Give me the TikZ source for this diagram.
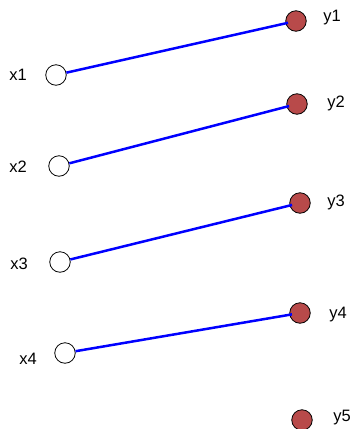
\documentclass[tikz,border=0pt]{standalone}
\usepackage{fontspec}
\setmainfont{Liberation Sans}
\definecolor{ynode}{RGB}{184,74,74}
\begin{document}
\begin{tikzpicture}[x=1pt,y=-1pt,
  xnode/.style={circle,draw=black,line width=0.8pt,fill=white,minimum size=20.5pt,inner sep=0pt},
  ynodestyle/.style={circle,draw=black,line width=0.8pt,fill=ynode,minimum size=20.5pt,inner sep=0pt},
  lbl/.style={inner sep=0pt,font=\fontsize{16.5}{18}\selectfont},
  edge/.style={draw=blue,line width=2.5pt,shorten >=-2.5pt}]
\useasboundingbox (0,0) rectangle (352,429);
\node[xnode] (x1) at (56,75) {};
\node[xnode] (x2) at (59,166) {};
\node[xnode] (x3) at (60,262) {};
\node[xnode] (x4) at (65,353) {};
\node[ynodestyle] (y1) at (296,21) {};
\node[ynodestyle] (y2) at (297,104) {};
\node[ynodestyle] (y3) at (300,203) {};
\node[ynodestyle] (y4) at (300,313) {};
\node[ynodestyle] (y5) at (302,420) {};
\node[lbl] (lx1) at (18,75) {x1};
\node[lbl] (lx2) at (18,167) {x2};
\node[lbl] (lx3) at (19,264) {x3};
\node[lbl] (lx4) at (28,359) {x4};
\node[lbl] (ly1) at (332,18) {y1};
\node[lbl] (ly2) at (336,103) {y2};
\node[lbl] (ly3) at (336,202) {y3};
\node[lbl] (ly4) at (338,315) {y4};
\node[lbl] (ly5) at (342,418) {y5};
\draw[edge] (x1) -- (y1);
\draw[edge] (x2) -- (y2);
\draw[edge] (x3) -- (y3);
\draw[edge] (x4) -- (y4);
\end{tikzpicture}
\end{document}
